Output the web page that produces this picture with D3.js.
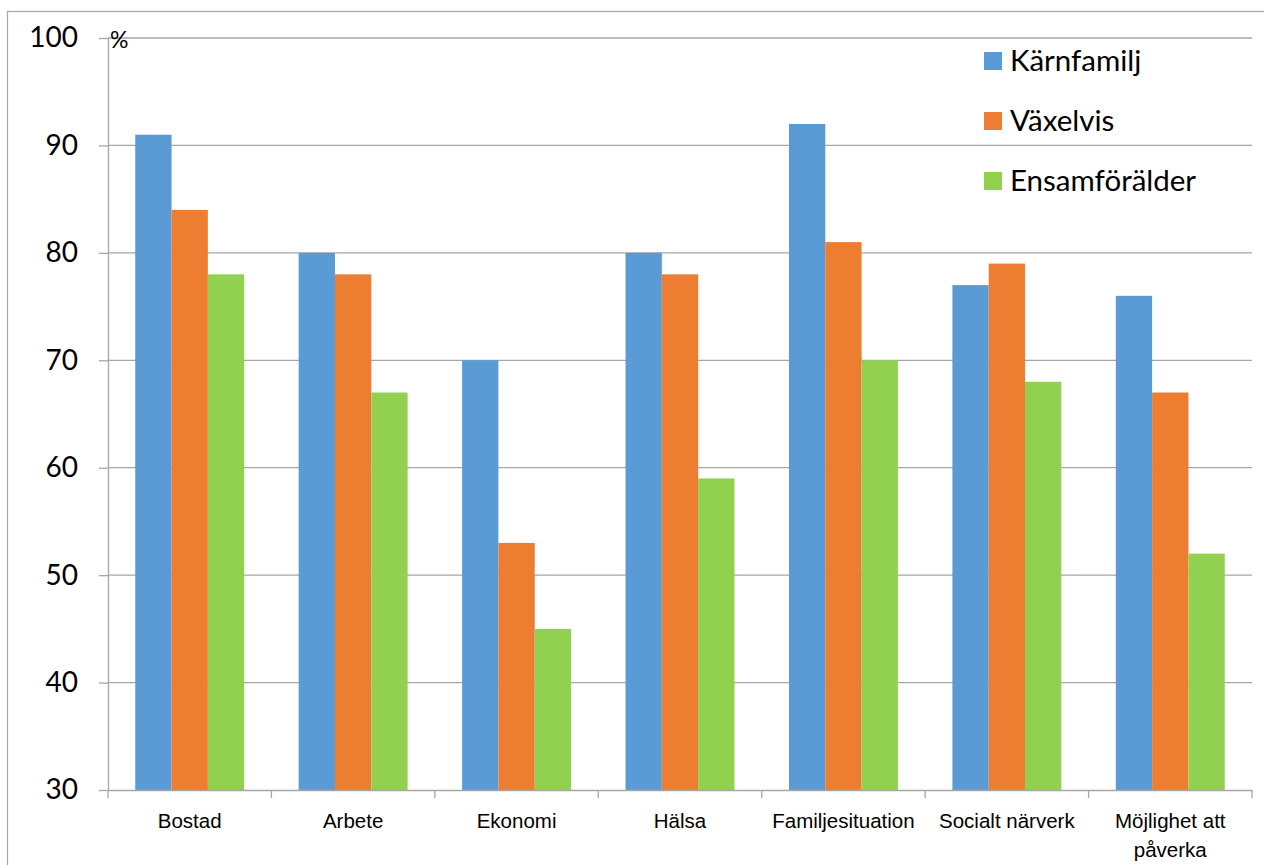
<!DOCTYPE html>
<html>
<head>
<meta charset="utf-8">
<script src="https://cdn.jsdelivr.net/npm/d3@7"></script>
<style>
  html, body { margin: 0; padding: 0; background: #fff; }
  svg { display: block; font-family: Lato, "Open Sans", sans-serif; }
</style>
</head>
<body>
<svg id="chart" width="1264" height="865"></svg>
<script>
const categories = ["Bostad", "Arbete", "Ekonomi", "Hälsa", "Familjesituation", "Socialt närverk", "Möjlighet att påverka"];
const seriesNames = ["Kärnfamilj", "Växelvis", "Ensamförälder"];
const karnfamilj = [91, 80, 70, 80, 92, 77, 76];
const vaxelvis = [84, 78, 53, 78, 81, 79, 67];
const ensamforalder = [78, 67, 45, 59, 70, 68, 52];
const yTicks = [30, 40, 50, 60, 70, 80, 90, 100];
const colors = ["#5b9bd5", "#ed7d31", "#92d050"];

const seriesValues = [karnfamilj, vaxelvis, ensamforalder];

const svg = d3.select("#chart");
const margin = { top: 38, right: 12, bottom: 75, left: 108 };
const width = 1264, height = 865;
const innerW = width - margin.left - margin.right;
const innerH = height - margin.top - margin.bottom;

// outer chart border
svg.append("rect")
  .attr("x", 7.5).attr("y", 11.5)
  .attr("width", width).attr("height", height)
  .attr("fill", "none").attr("stroke", "#a6a6a6").attr("stroke-width", 1.2);

const g = svg.append("g").attr("transform", `translate(${margin.left},${margin.top})`);

const x0 = d3.scaleBand().domain(categories).range([0, innerW]).paddingInner(0).paddingOuter(0);
const x1 = d3.scaleBand().domain(seriesNames).range([x0.bandwidth() * 0.1667, x0.bandwidth() * 0.8333]);
const y = d3.scaleLinear().domain([30, 100]).range([innerH, 0]);

// gridlines
g.append("g")
  .selectAll("line")
  .data(yTicks.filter(d => d > 30))
  .join("line")
  .attr("x1", 0).attr("x2", innerW)
  .attr("y1", d => y(d)).attr("y2", d => y(d))
  .attr("stroke", "#a6a6a6").attr("stroke-width", 1.3);

// bars
const rows = categories.map((c, i) => ({ cat: c, vals: seriesNames.map((s, j) => ({ s, j, v: seriesValues[j][i] })) }));
g.append("g")
  .selectAll("g")
  .data(rows)
  .join("g")
  .attr("transform", d => `translate(${x0(d.cat)},0)`)
  .selectAll("rect")
  .data(d => d.vals)
  .join("rect")
  .attr("x", d => x1(d.s))
  .attr("width", x1.bandwidth())
  .attr("y", d => y(d.v))
  .attr("height", d => innerH - y(d.v))
  .attr("fill", d => colors[d.j]);

// y axis
const yAxis = g.append("g")
  .call(d3.axisLeft(y).tickValues(yTicks).tickSize(9).tickPadding(21).tickSizeOuter(0));
yAxis.select(".domain").attr("stroke", "#a6a6a6").attr("stroke-width", 1.3);
yAxis.selectAll(".tick line").attr("stroke", "#a6a6a6").attr("stroke-width", 1.3);
yAxis.selectAll(".tick text").attr("font-size", 28).attr("fill", "#000").attr("font-family", "Lato, sans-serif");

// x axis
const xAxis = g.append("g")
  .attr("transform", `translate(0,${innerH})`)
  .call(d3.axisBottom(x0).tickSize(0).tickSizeOuter(0).tickFormat(""));
xAxis.select(".domain").attr("stroke", "#a6a6a6").attr("stroke-width", 1.3);
xAxis.selectAll(".tick line").remove();

const sep = categories.map((c) => x0(c)).concat([innerW]);
xAxis.selectAll("line.sep")
  .data(sep)
  .join("line")
  .attr("class", "sep")
  .attr("x1", d => d).attr("x2", d => d)
  .attr("y1", 0).attr("y2", 8)
  .attr("stroke", "#a6a6a6").attr("stroke-width", 1.3);

const labelLines = { "Möjlighet att påverka": ["Möjlighet att", "påverka"] };
xAxis.selectAll("text.cat")
  .data(categories)
  .join("text")
  .attr("class", "cat")
  .attr("x", d => x0(d) + x0.bandwidth() / 2)
  .attr("y", 38)
  .attr("text-anchor", "middle")
  .attr("font-size", 20.5)
  .attr("fill", "#000")
  .each(function (d) {
    const lines = labelLines[d] || [d];
    const t = d3.select(this);
    lines.forEach((l, i) => {
      t.append("tspan").attr("x", x0(d) + x0.bandwidth() / 2).attr("dy", i === 0 ? 0 : 29).text(l);
    });
  });

// % label
g.append("text")
  .attr("x", 2).attr("y", 10)
  .attr("font-size", 23).attr("fill", "#000")
  .text("%");

// legend
const legend = svg.append("g").attr("transform", "translate(984,0)");
const li = legend.selectAll("g")
  .data(seriesNames)
  .join("g")
  .attr("transform", (d, i) => `translate(0,${61 + i * 60})`);
li.append("rect")
  .attr("x", 0).attr("y", -9).attr("width", 18).attr("height", 18)
  .attr("fill", (d, i) => colors[i]);
li.append("text")
  .attr("x", 26).attr("y", 0).attr("dy", "0.35em")
  .attr("font-size", 29.5).attr("fill", "#000")
  .text(d => d);
</script>
</body>
</html>
